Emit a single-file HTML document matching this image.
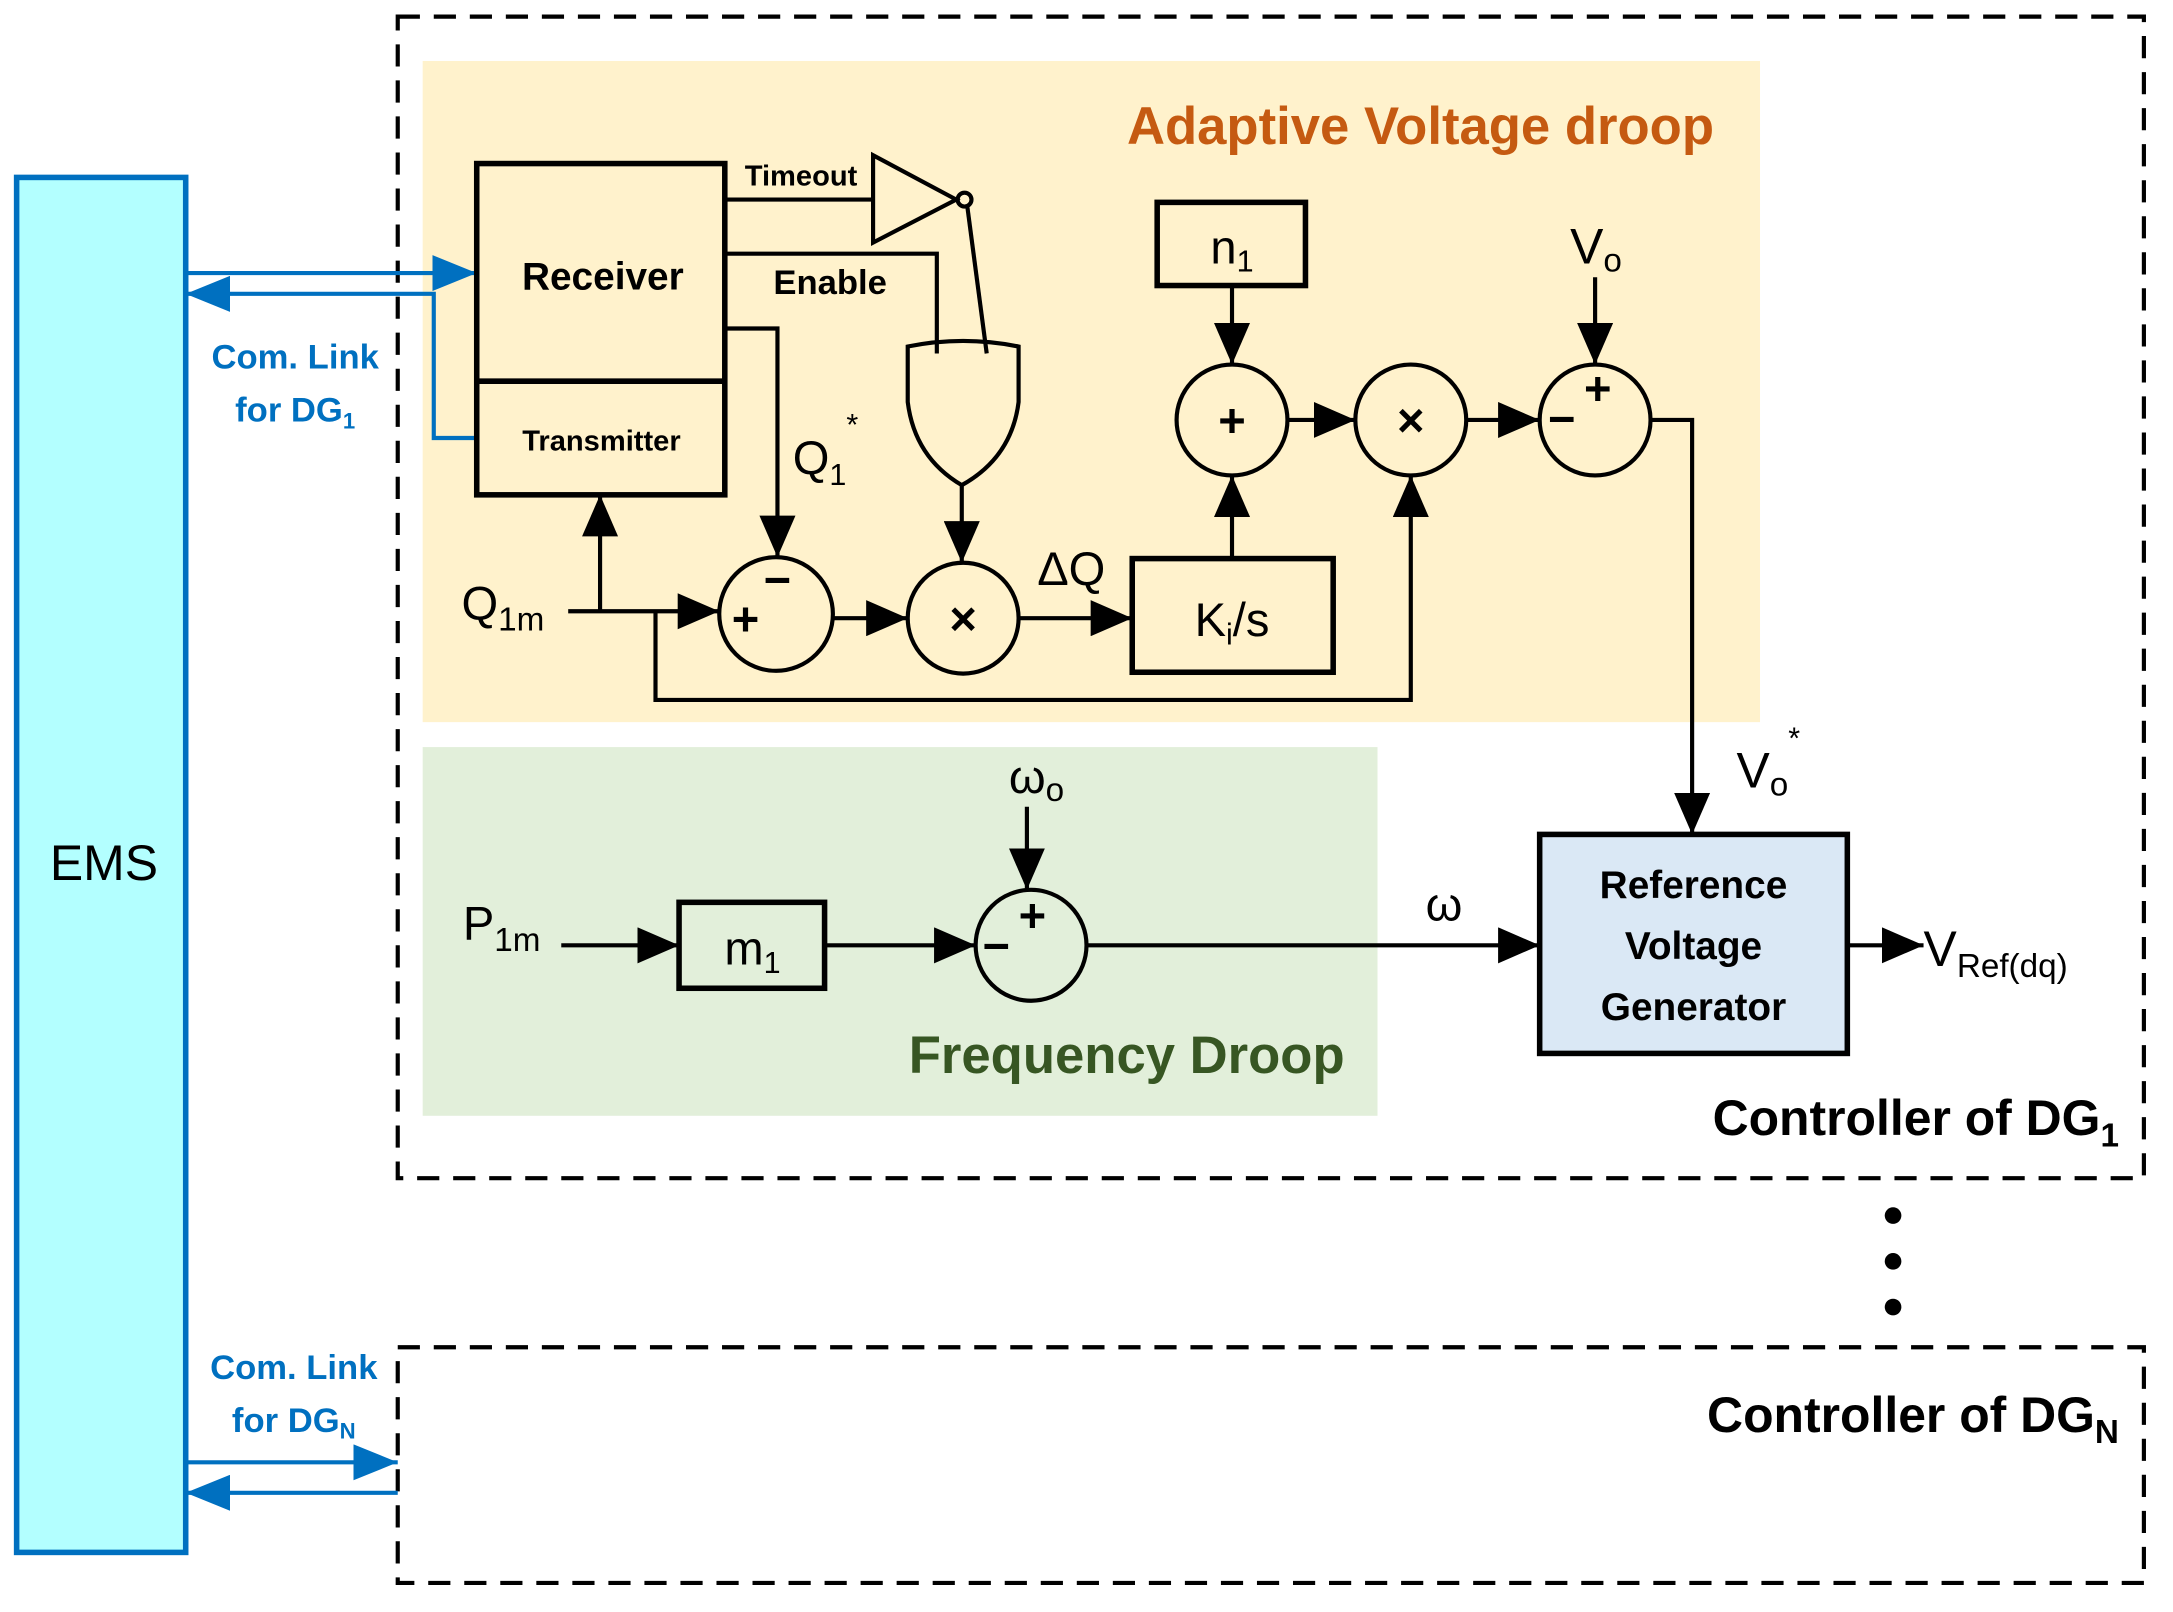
<!DOCTYPE html>
<html><head><meta charset="utf-8"><style>
html,body{margin:0;padding:0;background:#fff}
svg{display:block}
text{font-family:"Liberation Sans",sans-serif}
</style></head><body>
<svg width="2173" height="1612" viewBox="0 0 1568 1163" preserveAspectRatio="none" xmlns="http://www.w3.org/2000/svg">
<style>
.l{stroke:#000;stroke-width:3;fill:none}
.la{stroke:#000;stroke-width:3;fill:none;marker-end:url(#A)}
.sg{font-size:34px;font-weight:bold}
</style>
<defs>
<marker id="A" markerWidth="30" markerHeight="26" refX="30" refY="13" orient="auto" markerUnits="userSpaceOnUse"><path d="M0,0 L30,13 L0,26z" fill="#000"/></marker>
<marker id="B" markerWidth="32" markerHeight="26" refX="32" refY="13" orient="auto" markerUnits="userSpaceOnUse"><path d="M0,0 L32,13 L0,26z" fill="#0070c0"/></marker>
</defs>
<rect x="305" y="44" width="965" height="477" fill="#fff2cc"/>
<rect x="305" y="539" width="689" height="266" fill="#e2efda"/>
<rect x="287" y="12" width="1260" height="838" fill="none" stroke="#000" stroke-width="3" stroke-dasharray="16,10"/>
<rect x="287" y="972" width="1260" height="170" fill="none" stroke="#000" stroke-width="3" stroke-dasharray="16,10"/>
<rect x="12" y="128" width="122" height="992" fill="#b3ffff" stroke="#0070c0" stroke-width="4"/>
<text x="75" y="635" font-size="36" text-anchor="middle">EMS</text>
<line x1="134" y1="197" x2="344" y2="197" stroke="#0070c0" stroke-width="3" marker-end="url(#B)"/>
<polyline points="344,316 313,316 313,212 134,212" stroke="#0070c0" stroke-width="3" fill="none" marker-end="url(#B)"/>
<text x="213" y="266" font-size="25" font-weight="bold" fill="#0070c0" text-anchor="middle">Com. Link</text>
<text x="213" y="304" font-size="25" font-weight="bold" fill="#0070c0" text-anchor="middle">for DG<tspan font-size="16" dy="5">1</tspan></text>
<line x1="134" y1="1055" x2="287" y2="1055" stroke="#0070c0" stroke-width="3" marker-end="url(#B)"/>
<line x1="287" y1="1077" x2="134" y2="1077" stroke="#0070c0" stroke-width="3" marker-end="url(#B)"/>
<text x="212" y="995" font-size="25" font-weight="bold" fill="#0070c0" text-anchor="middle">Com. Link</text>
<text x="212" y="1033" font-size="25" font-weight="bold" fill="#0070c0" text-anchor="middle">for DG<tspan font-size="16" dy="5">N</tspan></text>
<rect x="344" y="118" width="179" height="239" fill="none" stroke="#000" stroke-width="4"/>
<line x1="344" y1="275" x2="523" y2="275" stroke="#000" stroke-width="4"/>
<text x="435" y="209" font-size="28" font-weight="bold" text-anchor="middle">Receiver</text>
<text x="434" y="325" font-size="21" font-weight="bold" text-anchor="middle">Transmitter</text>
<line class="l" x1="523" y1="144" x2="630" y2="144"/>
<text x="578" y="134" font-size="21" font-weight="bold" text-anchor="middle">Timeout</text>
<path d="M630,112 L690,144 L630,175z" fill="none" stroke="#000" stroke-width="3"/>
<circle cx="696" cy="144" r="5" fill="none" stroke="#000" stroke-width="3"/>
<line class="l" x1="698" y1="149" x2="712" y2="255"/>
<polyline class="l" points="523,183 676,183 676,255"/>
<text x="599" y="212" font-size="25" font-weight="bold" text-anchor="middle">Enable</text>
<path d="M655,250 Q695,242 735,250 L735,290 Q730,330 694,350 Q660,330 655,290 Z" fill="none" stroke="#000" stroke-width="3"/>
<line class="la" x1="694" y1="350" x2="694" y2="406"/>
<polyline class="la" points="523,237 561,237 561,402"/>
<text x="572" y="342" font-size="34">Q<tspan font-size="22" dy="8">1</tspan><tspan font-size="22" dy="-36">*</tspan></text>
<text x="333" y="447" font-size="34">Q<tspan font-size="24" dy="8">1m</tspan></text>
<line class="la" x1="410" y1="441" x2="519" y2="441"/>
<line class="la" x1="433" y1="441" x2="433" y2="357"/>
<polyline class="la" points="473,441 473,505 1018,505 1018,343"/>
<circle cx="560" cy="443" r="41" fill="none" stroke="#000" stroke-width="3"/>
<text x="528" y="458" class="sg">+</text><text x="551" y="430" class="sg">−</text>
<line class="la" x1="601" y1="446" x2="655" y2="446"/>
<circle cx="695" cy="446" r="40" fill="none" stroke="#000" stroke-width="3"/>
<text x="695" y="458" class="sg" text-anchor="middle">×</text>
<text x="773" y="422" font-size="34" text-anchor="middle">ΔQ</text>
<line class="la" x1="735" y1="446" x2="817" y2="446"/>
<rect x="817" y="403" width="145" height="82" fill="none" stroke="#000" stroke-width="4"/>
<text x="889" y="459" font-size="34" text-anchor="middle">K<tspan font-size="22" dy="6">i</tspan><tspan dy="-6">/s</tspan></text>
<rect x="835" y="146" width="107" height="60" fill="none" stroke="#000" stroke-width="4"/>
<text x="889" y="190" font-size="34" text-anchor="middle">n<tspan font-size="22" dy="6">1</tspan></text>
<line class="la" x1="889" y1="206" x2="889" y2="263"/>
<circle cx="889" cy="303" r="40" fill="none" stroke="#000" stroke-width="3"/>
<text x="889" y="315" class="sg" text-anchor="middle">+</text>
<line class="la" x1="889" y1="403" x2="889" y2="343"/>
<line class="la" x1="929" y1="303" x2="978" y2="303"/>
<circle cx="1018" cy="303" r="40" fill="none" stroke="#000" stroke-width="3"/>
<text x="1018" y="315" class="sg" text-anchor="middle">×</text>
<line class="la" x1="1058" y1="303" x2="1111" y2="303"/>
<text x="1133" y="190" font-size="36">V<tspan font-size="24" dy="6">o</tspan></text>
<line class="la" x1="1151" y1="200" x2="1151" y2="263"/>
<circle cx="1151" cy="303" r="40" fill="none" stroke="#000" stroke-width="3"/>
<text x="1143" y="292" class="sg">+</text><text x="1117" y="314" class="sg">−</text>
<polyline class="la" points="1191,303 1221,303 1221,602"/>
<text x="1253" y="568" font-size="36">V<tspan font-size="24" dy="6">o</tspan><tspan font-size="22" dy="-34">*</tspan></text>
<text x="1025" y="104" font-size="38" font-weight="bold" fill="#c55a11" text-anchor="middle">Adaptive Voltage droop</text>
<text x="334" y="678" font-size="34">P<tspan font-size="24" dy="8">1m</tspan></text>
<line class="la" x1="405" y1="682" x2="490" y2="682"/>
<rect x="490" y="651" width="105" height="62" fill="none" stroke="#000" stroke-width="4"/>
<text x="543" y="696" font-size="34" text-anchor="middle">m<tspan font-size="22" dy="6">1</tspan></text>
<line class="la" x1="595" y1="682" x2="704" y2="682"/>
<circle cx="744" cy="682" r="40" fill="none" stroke="#000" stroke-width="3"/>
<text x="735" y="672" class="sg">+</text><text x="709" y="694" class="sg">−</text>
<text x="728" y="572" font-size="34">ω<tspan font-size="24" dy="6">o</tspan></text>
<line class="la" x1="741" y1="582" x2="741" y2="642"/>
<line class="la" x1="784" y1="682" x2="1111" y2="682"/>
<text x="1042" y="664" font-size="34" text-anchor="middle">ω</text>
<text x="813" y="774" font-size="38" font-weight="bold" fill="#375623" text-anchor="middle">Frequency Droop</text>
<rect x="1111" y="602" width="222" height="158" fill="#dae8f5" stroke="#000" stroke-width="4"/>
<text x="1222" y="648" font-size="28" font-weight="bold" text-anchor="middle">Reference</text>
<text x="1222" y="692" font-size="28" font-weight="bold" text-anchor="middle">Voltage</text>
<text x="1222" y="736" font-size="28" font-weight="bold" text-anchor="middle">Generator</text>
<line class="la" x1="1333" y1="682" x2="1388" y2="682"/>
<text x="1388" y="697" font-size="36">V<tspan font-size="24" dy="8">Ref(dq)</tspan></text>
<text x="1529" y="819" font-size="36" font-weight="bold" text-anchor="end">Controller of DG<tspan font-size="24" dy="8">1</tspan></text>
<text x="1529" y="1033" font-size="36" font-weight="bold" text-anchor="end">Controller of DG<tspan font-size="24" dy="8">N</tspan></text>
<circle cx="1366" cy="877" r="6" fill="#000"/><circle cx="1366" cy="910" r="6" fill="#000"/><circle cx="1366" cy="943" r="6" fill="#000"/>
</svg>
</body></html>
